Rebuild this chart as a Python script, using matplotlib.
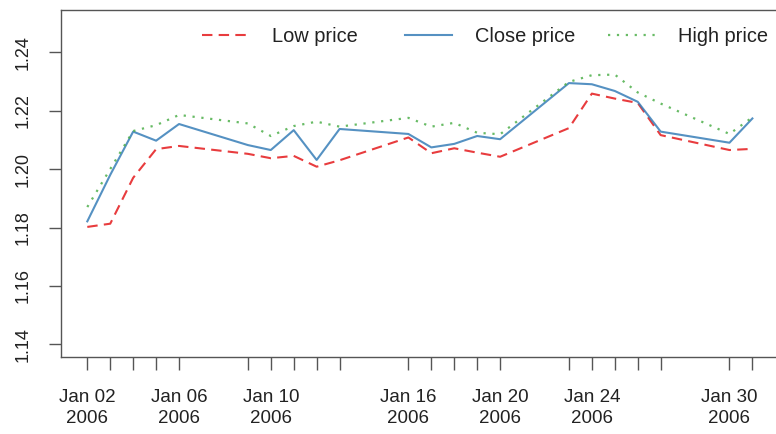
import matplotlib
matplotlib.use("Agg")
import matplotlib.pyplot as plt
import pandas as pd

plt.rcParams['font.family'] = ['Liberation Sans', 'DejaVu Sans']

# EUR/USD daily prices, January 2006
dates = ["2006-01-02", "2006-01-03", "2006-01-04", "2006-01-05", "2006-01-06",
         "2006-01-09", "2006-01-10", "2006-01-11", "2006-01-12", "2006-01-13",
         "2006-01-16", "2006-01-17", "2006-01-18", "2006-01-19", "2006-01-20",
         "2006-01-23", "2006-01-24", "2006-01-25", "2006-01-26", "2006-01-27",
         "2006-01-30", "2006-01-31"]
low_price = [1.1802, 1.1813, 1.1970, 1.2068, 1.2079, 1.2052, 1.2037, 1.2045, 1.2008, 1.2030,
             1.2108, 1.2054, 1.2071, 1.2056, 1.2042, 1.2140, 1.2258, 1.2241, 1.2226, 1.2116,
             1.2065, 1.2069]
close_price = [1.1821, 1.1980, 1.2128, 1.2097, 1.2154, 1.2082, 1.2065, 1.2133, 1.2031, 1.2137,
               1.2120, 1.2074, 1.2086, 1.2113, 1.2102, 1.2294, 1.2290, 1.2267, 1.2230, 1.2128,
               1.2090, 1.2173]
high_price = [1.1870, 1.2000, 1.2130, 1.2150, 1.2185, 1.2156, 1.2113, 1.2147, 1.2162, 1.2145,
              1.2175, 1.2145, 1.2158, 1.2124, 1.2119, 1.2298, 1.2321, 1.2323, 1.2262, 1.2224,
              1.2120, 1.2177]
labelled_dates = ["2006-01-02", "2006-01-06", "2006-01-10", "2006-01-16",
                  "2006-01-20", "2006-01-24", "2006-01-30"]
y_ticks = [1.14, 1.16, 1.18, 1.20, 1.22, 1.24]
series_names = ["Low price", "Close price", "High price"]

x = pd.to_datetime(dates)
xl = set(pd.to_datetime(labelled_dates))

W, H = 776, 434
fig = plt.figure(figsize=(W / 100, H / 100), dpi=100)
ax = fig.add_axes([60.7 / W, (H - 357.3) / H, (779 - 60.7) / W, 347.3 / H])

red, blue, green = "#E41A1C", "#377EB8", "#4DAF4A"
l1, = ax.plot(x, low_price, color=red, lw=1.5, linestyle=(0, (5, 3)), alpha=0.85)
l2, = ax.plot(x, close_price, color=blue, lw=1.5, linestyle="-", alpha=0.85)
l3, = ax.plot(x, high_price, color=green, lw=1.6, linestyle=(0, (1, 3)), alpha=0.85)

span = x[-1] - x[0]
pad = span * 0.04
ax.set_xlim(x[0] - pad, x[-1] + pad)
ax.set_ylim(1.1356, 1.2544)

ax.set_xticks(x)
ax.set_xticklabels([d.strftime("%b %d\n%Y") if d in xl else "" for d in x])
for t in ax.get_xticklabels():
    t.set_linespacing(1.3)
ax.set_yticks(y_ticks)
ax.set_yticklabels([f"{v:.2f}" for v in y_ticks])

for s in ax.spines.values():
    s.set_color("#555555")
    s.set_linewidth(1.0)

ax.tick_params(axis="x", length=9, width=1, color="#555555", pad=14, labelsize=13.5,
               labelcolor="#222222")
ax.tick_params(axis="y", length=9, width=1, color="#555555", pad=12, labelsize=13,
               labelcolor="#222222", labelrotation=90)
for t in ax.get_yticklabels():
    t.set_verticalalignment("center")

# Horizontal legend with equal-width entries
entry_left = [202, 405, 608]
for handle, name, left in zip([l1, l2, l3], series_names, entry_left):
    leg = fig.legend([handle], [name], loc="center left",
                     bbox_to_anchor=(left / W, 1 - 36 / H),
                     frameon=False, fontsize=14.4, handlelength=2.35,
                     handletextpad=1.15, borderpad=0, borderaxespad=0)
    for t in leg.get_texts():
        t.set_color("#222222")

fig.savefig("out.png", dpi=100)
